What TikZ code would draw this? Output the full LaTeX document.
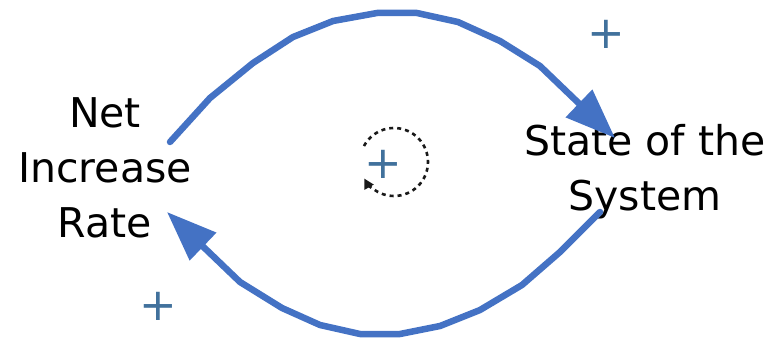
\documentclass[tikz,border=0pt]{standalone}
\usepackage{fontspec}
\setmainfont{DejaVu Sans}
\usetikzlibrary{arrows.meta}
\definecolor{linkblue}{HTML}{4472C4}
\definecolor{signblue}{HTML}{41719C}
\tikzset{
  label text/.style={align=center, inner sep=0pt, font=\fontsize{41}{55}\selectfont, text=black},
  link/.style={draw=linkblue, line width=6.5pt, line cap=round, line join=round,
    -{Triangle[length=50pt,width=37pt]}},
  polarity/.style={inner sep=0pt, text=signblue, font=\fontsize{45}{45}\selectfont},
  loopmark/.style={draw=black!90, line width=2.6pt, dash pattern=on 4pt off 4pt,
    -{Triangle[length=10pt,width=10pt]}}
}
\begin{document}
\begin{tikzpicture}[x=1pt,y=1pt]
\useasboundingbox (0,0) rectangle (780,341);
% text nodes (base anchor = baseline of last line)
\node[label text, anchor=base] (rate) at (105,104) {Net\\Increase\\Rate};
\node[label text, anchor=base] (state) at (645,131) {State of the\\System};
% connector end points
\coordinate (a1) at (170,199);
\coordinate (a2) at (615,203);
\coordinate (b1) at (600,129);
\coordinate (b2) at (167,129);
% upper link
\draw[link] (a1) -- (210,243) -- (253,278) -- (293,304) -- (333,320) -- (377,328)
  -- (417,328) -- (458,319) -- (500,300) -- (540,275) -- (a2);
% lower link
\draw[link] (b1) -- (560,89) -- (522,56) -- (480,31) -- (440,15) -- (400,7)
  -- (360,7) -- (320,16) -- (282,33) -- (240,59) -- (b2);
% polarity signs
\node[polarity] (p1) at (606,307) {+};
\node[polarity] (p2) at (158,35) {+};
\node[polarity] (p3) at (383,177) {+};
% loop symbol
\coordinate (lc) at (394,179);
\draw[loopmark] (lc) ++(152:34) arc[start angle=152, end angle=-151, radius=34];
\end{tikzpicture}
\end{document}
